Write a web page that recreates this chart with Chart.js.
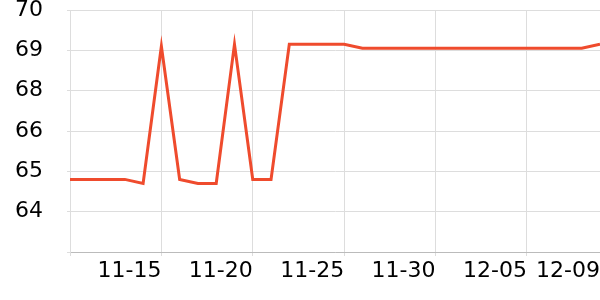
<!DOCTYPE html>
<html>
<head>
<meta charset="utf-8">
<script src="https://cdn.jsdelivr.net/npm/chart.js@4/dist/chart.umd.min.js"></script>
<style>
  html, body { margin: 0; padding: 0; background: #fff; }
  #wrap { width: 600px; height: 300px; }
</style>
</head>
<body>
<div id="wrap"><canvas id="myChart"></canvas></div>
<script>
const dates = [
    '11-10', '11-11', '11-12', '11-13', '11-14', '11-15', '11-16', '11-17', '11-18', '11-19',
    '11-20', '11-21', '11-22', '11-23', '11-24', '11-25', '11-26', '11-27', '11-28', '11-29',
    '11-30', '12-01', '12-02', '12-03', '12-04', '12-05', '12-06', '12-07', '12-08', '12-09'
];
const values = [
    64.8, 64.8, 64.8, 64.8, 64.7, 69.1, 64.8, 64.7, 64.7, 69.15,
    64.8, 64.8, 69.15, 69.15, 69.15, 69.15, 69.05, 69.05, 69.05, 69.05,
    69.05, 69.05, 69.05, 69.05, 69.05, 69.05, 69.05, 69.05, 69.05, 69.15
];
const yTicks = [63, 64, 65, 66, 68, 69, 70];
const shownDates = [0, 5, 10, 15, 20, 25, 29];

// y axis in the picture has equal spacing for 66 -> 68, so map values piecewise
function toUnit(v) {
    if (v <= 66) return v - 63;
    if (v <= 68) return 3 + (v - 66) / 2;
    return v - 64;
}
function fromUnit(u) {
    if (u <= 3) return u + 63;
    if (u <= 4) return 66 + (u - 3) * 2;
    return u + 64;
}

class GapScale extends Chart.LinearScale {
    buildTicks() {
        return yTicks.map(v => ({ value: v }));
    }
    getPixelForValue(value) {
        if (value === null || value === undefined) return NaN;
        return this.getPixelForDecimal(toUnit(value) / 6);
    }
    getValueForPixel(pixel) {
        return fromUnit(this.getDecimalForPixel(pixel) * 6);
    }
}
GapScale.id = 'gap';
GapScale.defaults = {};
Chart.register(GapScale);

new Chart(document.getElementById('myChart'), {
    type: 'line',
    data: {
        labels: dates,
        datasets: [{
            data: values,
            borderColor: '#ef4b2d',
            borderWidth: 3,
            pointRadius: 0,
            tension: 0,
            fill: false
        }]
    },
    options: {
        responsive: true,
        maintainAspectRatio: false,
        animation: false,
        layout: {
            padding: { top: 10, right: 0, left: 15, bottom: 0 }
        },
        plugins: {
            legend: { display: false },
            tooltip: { enabled: false }
        },
        scales: {
            x: {
                type: 'category',
                grid: { color: '#dddddd', tickLength: 4 },
                border: { color: '#bbbbbb' },
                afterBuildTicks: scale => {
                    scale.ticks = scale.ticks.filter(t => shownDates.includes(t.value));
                },
                afterFit: scale => { scale.height = 48; },
                ticks: {
                    autoSkip: false,
                    maxRotation: 0,
                    align: 'end',
                    padding: 0,
                    color: '#000',
                    font: { family: 'DejaVu Sans', size: 22, lineHeight: 1.4 },
                    callback: function (value) {
                        return value === 0 ? '' : this.getLabelForValue(value);
                    }
                }
            },
            y: {
                type: 'gap',
                min: 63,
                max: 70,
                grid: { color: '#dddddd', tickLength: 3 },
                border: { color: '#dddddd' },
                afterFit: scale => { scale.width = 55; },
                ticks: {
                    padding: 0,
                    crossAlign: 'far',
                    color: '#000',
                    font: { family: 'DejaVu Sans', size: 22, lineHeight: 0.9 },
                    callback: value => value === 63 ? '' : String(value)
                }
            }
        }
    }
});
</script>
</body>
</html>
